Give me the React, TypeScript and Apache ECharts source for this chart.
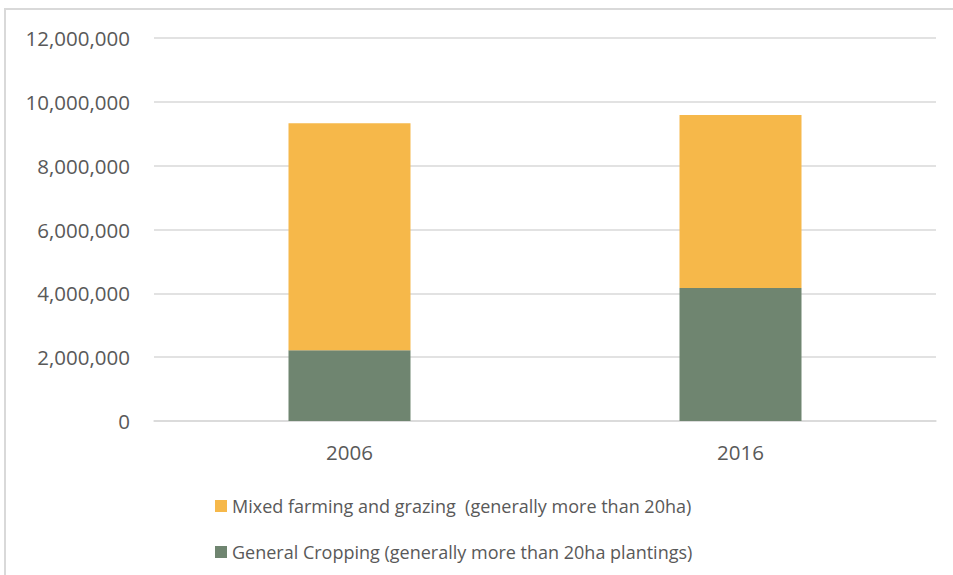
import React, { useEffect, useRef } from "react";
import * as echarts from "echarts";

const categories = ["2006", "2016"];
const generalCropping = [2220000, 4170000];
const mixedFarming = [7110000, 5420000];
const seriesNames = [
  "Mixed farming and grazing  (generally more than 20ha)",
  "General Cropping (generally more than 20ha plantings)",
];

export default function App() {
  const ref = useRef<HTMLDivElement>(null);
  useEffect(() => {
    if (!ref.current) return;
    const chart = echarts.init(ref.current, null, { renderer: "svg" });
    const font = "'Open Sans', sans-serif";
    chart.setOption({
      animation: false,
      backgroundColor: "#ffffff",
      textStyle: { fontFamily: font },
      grid: { left: 154, right: 17, top: 38, bottom: 154 },
      graphic: [
        {
          type: "rect",
          shape: { x: 5, y: 9, width: 1200, height: 1200 },
          style: { fill: "none", stroke: "#d9d9d9", lineWidth: 2 },
          silent: true,
        },
      ],
      legend: {
        orient: "vertical",
        left: 210,
        top: 492,
        itemWidth: 12,
        itemHeight: 12,
        itemGap: 28,
        icon: "rect",
        data: seriesNames,
        textStyle: { fontFamily: font, fontSize: 18, color: "#595959" },
      },
      xAxis: {
        type: "category",
        data: categories,
        axisLine: { lineStyle: { color: "#d9d9d9", width: 1.5 } },
        axisTick: { show: false },
        axisLabel: { color: "#595959", fontSize: 20.5, margin: 20, fontFamily: font },
      },
      yAxis: {
        type: "value",
        min: 0,
        max: 12000000,
        interval: 2000000,
        axisLine: { show: false },
        axisTick: { show: false },
        splitLine: { lineStyle: { color: "#d9d9d9", width: 1.5 } },
        axisLabel: {
          color: "#595959",
          fontSize: 20.5,
          margin: 24,
          fontFamily: font,
          formatter: (v: number) => v.toLocaleString("en-US"),
        },
      },
      series: [
        {
          name: seriesNames[1],
          type: "bar",
          stack: "total",
          data: generalCropping,
          barWidth: 122,
          itemStyle: { color: "#6F8570" },
        },
        {
          name: seriesNames[0],
          type: "bar",
          stack: "total",
          data: mixedFarming,
          barWidth: 122,
          itemStyle: { color: "#F6B84A" },
        },
      ],
    });
    return () => chart.dispose();
  }, []);
  return (
    <div
      ref={ref}
      style={{ position: "fixed", left: 0, top: 0, width: 953, height: 575 }}
    />
  );
}
